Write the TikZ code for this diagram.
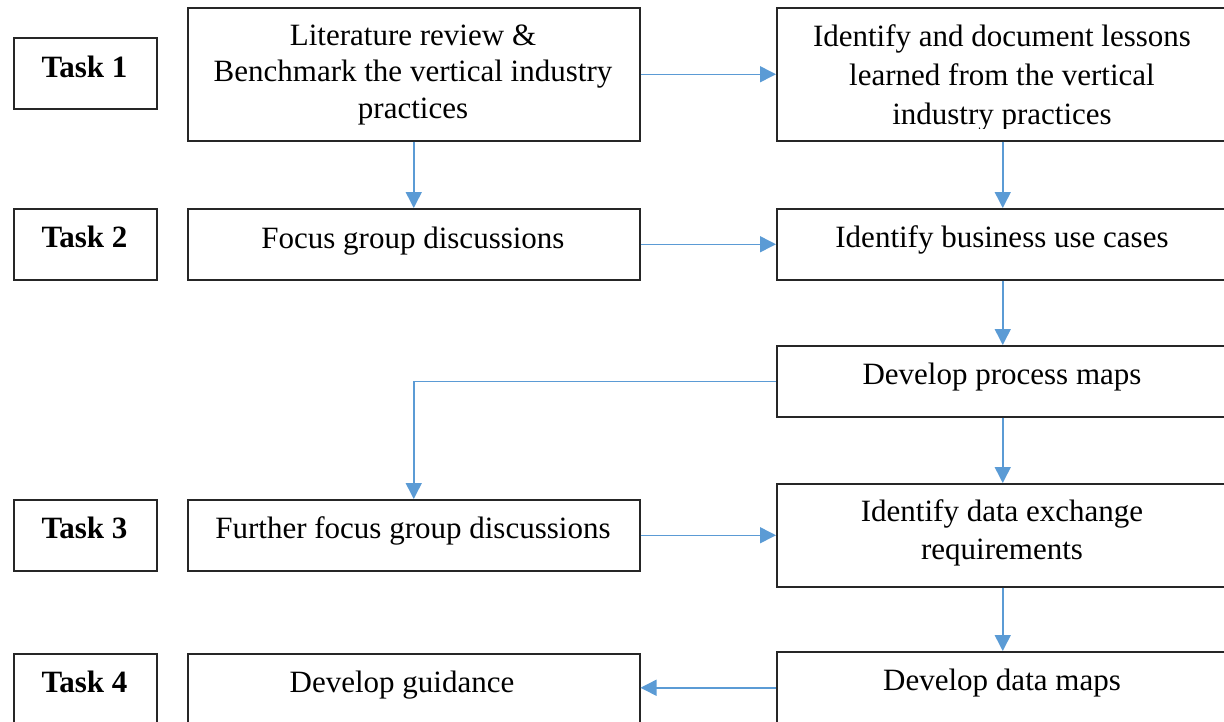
\documentclass[tikz,border=0pt]{standalone}
\usepackage{fontspec}
\setmainfont{Liberation Serif}
\usetikzlibrary{arrows.meta}
\definecolor{arrowblue}{HTML}{5B9BD5}
\definecolor{boxline}{HTML}{262626}
\tikzset{
  box/.style={draw=boxline, line width=1.5pt, anchor=north west, inner sep=0pt},
  txt/.style={anchor=base, inner sep=0pt, font=\fontsize{31}{36}\selectfont},
  tasktxt/.style={txt, font=\fontsize{31}{36}\selectfont\bfseries},
  arr/.style={draw=arrowblue, line width=1.5pt, -{Triangle[length=16pt,width=16pt]}}
}
\begin{document}
\begin{tikzpicture}[x=1pt,y=-1pt]
\useasboundingbox (0,0) rectangle (1224,721);
% task boxes
\node[box, minimum width=143pt, minimum height=71pt] (t1) at (13,37) {};
\node[box, minimum width=143pt, minimum height=71pt] (t2) at (13,208) {};
\node[box, minimum width=143pt, minimum height=71pt] (t3) at (13,499) {};
\node[box, minimum width=143pt, minimum height=70pt] (t4) at (13,653) {};
\node[tasktxt] (t1l) at (84.5,77) {Task 1};
\node[tasktxt] (t2l) at (84.5,247) {Task 2};
\node[tasktxt] (t3l) at (84.5,538) {Task 3};
\node[tasktxt] (t4l) at (84.5,692) {Task 4};
% middle column
\node[box, minimum width=452pt, minimum height=133pt] (lit) at (187,7) {};
\node[box, minimum width=452pt, minimum height=71pt] (fg) at (187,208) {};
\node[box, minimum width=452pt, minimum height=71pt] (ffg) at (187,499) {};
\node[box, minimum width=452pt, minimum height=70pt] (dg) at (187,653) {};
\node[txt] (lit1) at (413,45) {Literature review \&};
\node[txt] (lit2) at (413,81) {Benchmark the vertical industry};
\node[txt] (lit3) at (413,118) {practices};
\node[txt] (fgl) at (413,248) {Focus group discussions};
\node[txt] (ffgl) at (413,538) {Further focus group discussions};
\node[txt] (dgl) at (402,692) {Develop guidance};
% right column
\node[box, minimum width=452pt, minimum height=133pt] (les) at (776,7) {};
\node[box, minimum width=452pt, minimum height=71pt] (biz) at (776,208) {};
\node[box, minimum width=452pt, minimum height=71pt] (pm) at (776,345) {};
\node[box, minimum width=452pt, minimum height=103pt] (dx) at (776,483) {};
\node[box, minimum width=452pt, minimum height=72pt] (dm) at (776,651) {};
\node[txt] (les1) at (1002,46) {Identify and document lessons};
\node[txt] (les2) at (1002,85) {learned from the vertical};
\begin{scope}
\clip (776,100) rectangle (1228,128);
\node[txt] (les3) at (1002,124) {industry practices};
\end{scope}
\node[txt] (bizl) at (1002,247) {Identify business use cases};
\node[txt] (pml) at (1002,384) {Develop process maps};
\node[txt] (dx1) at (1002,521) {Identify data exchange};
\node[txt] (dx2) at (1002,559) {requirements};
\node[txt] (dml) at (1002,690) {Develop data maps};
% connectors
\draw[arr] (lit.east) -- (les.west);
\draw[arr] (fg.east) -- (biz.west);
\draw[arr] (ffg.east) -- (dx.west);
\draw[arr] (dm.west) -- (dg.east |- dm.west);
\draw[arr] (lit.south) -- (fg.north);
\draw[arr] (les.south) -- (biz.north);
\draw[arr] (biz.south) -- (pm.north);
\draw[arr] (pm.south) -- (dx.north);
\draw[arr] (dx.south) -- (dm.north);
\draw[arr] (pm.west) -| (ffg.north);
\end{tikzpicture}
\end{document}
